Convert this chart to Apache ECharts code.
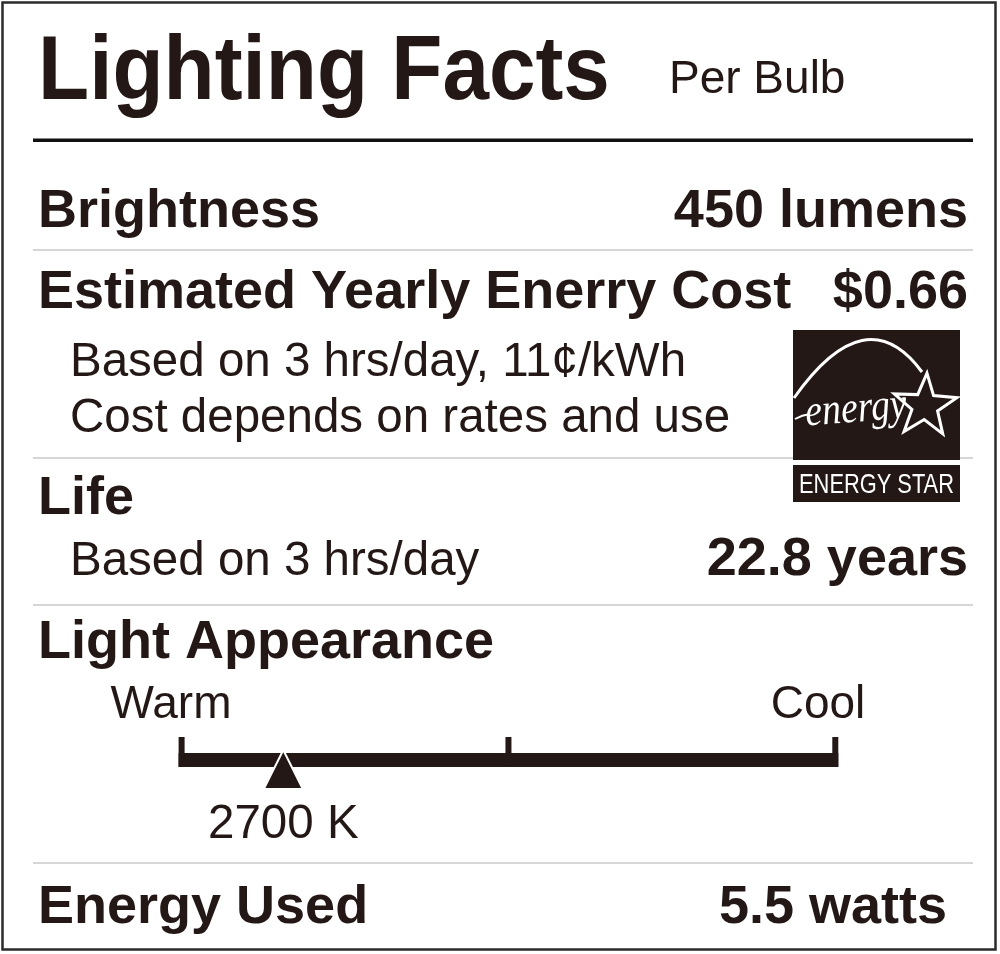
<!DOCTYPE html>
<html>
<head>
<meta charset="utf-8">
<script src="https://cdn.jsdelivr.net/npm/echarts@6/dist/echarts.min.js"></script>
<style>
html,body{margin:0;padding:0;background:#fff;}
#chart{width:1000px;height:954px;}
</style>
</head>
<body>
<div id="chart"></div>
<script>
// ---- data ----
const titleText = ['Lighting Facts', 'Per Bulb'];
const headings = ['Brightness', 'Estimated Yearly Enerry Cost', 'Life', 'Light Appearance', 'Energy Used'];
const notes = ['Based on 3 hrs/day, 11\u00A2/kWh', 'Cost depends on rates and use', 'Based on 3 hrs/day'];
const brightnessLumens = [450];
const yearlyCostUSD = [0.66];
const lifeYears = [22.8];
const energyWatts = [5.5];
const colorTempK = [2700];
const scaleTicks = [2000, 4250, 6500];
const scaleEnds = ['Warm', 'Cool'];
const logoText = ['energy', 'ENERGY STAR'];

// ---- styles ----
const INK = '#231815';
const FF = '"Liberation Sans", Arial, Helvetica, sans-serif';
const MID = 0.27; // baseline offset factor for 'middle'
function txt(x, y, text, size, weight, align, extra) {
  const el = {
    type: 'text',
    x: x,
    y: y - MID * size,
    silent: true,
    style: {
      x: 0, y: 0,
      text: text,
      fill: INK,
      font: (weight || 'normal') + ' ' + size + 'px ' + FF,
      align: align || 'left', textAlign: align || 'left',
      verticalAlign: 'middle', textVerticalAlign: 'middle'
    }
  };
  if (extra) Object.assign(el, extra);
  return el;
}
function hline(y, color, w) {
  return {type: 'line', silent: true, shape: {x1: 33, y1: y, x2: 973, y2: y}, style: {stroke: color, lineWidth: w}};
}
function starPoints(cx, cy, R, r, rot) {
  const pts = [];
  for (let i = 0; i < 10; i++) {
    const a = -Math.PI / 2 + rot + i * Math.PI / 5;
    const rr = i % 2 === 0 ? R : r;
    pts.push([cx + rr * Math.cos(a), cy + rr * Math.sin(a)]);
  }
  return pts;
}

const B = 54, R = 47.5;
const graphics = [
  {type: 'rect', silent: true, shape: {x: 2.5, y: 2.5, width: 993, height: 947}, style: {fill: 'none', stroke: '#2b2b2b', lineWidth: 2.5}},
  txt(38, 98, titleText[0], 90, 'bold', 'left', {scaleX: 0.93}),
  txt(669, 93, titleText[1], 46, 'normal', 'left'),
  {type: 'rect', silent: true, shape: {x: 33, y: 138.5, width: 940, height: 3.5}, style: {fill: '#111'}},
  txt(38, 227, headings[0], B, 'bold'),
  txt(968, 227, brightnessLumens[0] + ' lumens', B, 'bold', 'right'),
  hline(250, '#c8c8c8', 1.5),
  txt(38, 308, headings[1], B, 'bold'),
  txt(968, 308, '$' + yearlyCostUSD[0].toFixed(2), B, 'bold', 'right'),
  txt(70, 376, notes[0], R, 'normal'),
  txt(70, 432, notes[1], R, 'normal'),
  hline(458, '#c8c8c8', 1.5),
  txt(38, 514, headings[2], B, 'bold'),
  txt(70, 575, notes[2], R, 'normal'),
  txt(968, 575, lifeYears[0].toFixed(1) + ' years', B, 'bold', 'right'),
  hline(605, '#c8c8c8', 1.5),
  txt(38, 658, headings[3], B, 'bold'),
  txt(171, 718, scaleEnds[0], 46, 'normal', 'center'),
  txt(818, 718, scaleEnds[1], 46, 'normal', 'center'),
  hline(863, '#c8c8c8', 1.5),
  txt(38, 923, headings[4], B, 'bold'),
  txt(947, 923, energyWatts[0] + ' watts', B, 'bold', 'right'),
  // ENERGY STAR logo
  {type: 'rect', silent: true, shape: {x: 793, y: 330, width: 167, height: 130}, style: {fill: INK}},
  {type: 'rect', silent: true, shape: {x: 793, y: 465, width: 167, height: 37}, style: {fill: INK}},
  {type: 'bezierCurve', silent: true, shape: {x1: 794, y1: 398, cpx1: 866, cpy1: 296, x2: 922, y2: 372}, style: {fill: 'none', stroke: '#fff', lineWidth: 3}},
  {type: 'polygon', silent: true, shape: {points: starPoints(925, 406, 33, 13.5, 0.06)}, style: {fill: 'none', stroke: '#fff', lineWidth: 3, lineJoin: 'miter'}},
  {type: 'bezierCurve', silent: true, shape: {x1: 795, y1: 419, cpx1: 802, cpy1: 415, x2: 810, y2: 414}, style: {fill: 'none', stroke: '#fff', lineWidth: 2}},
  {type: 'text', silent: true, x: 856, y: 410, rotation: 0.08, scaleX: 0.86,
    style: {x: 0, y: 0, text: logoText[0], fill: '#fff', font: 'italic 44px "Liberation Serif", serif',
      align: 'center', textAlign: 'center', verticalAlign: 'middle', textVerticalAlign: 'middle'}},
  {type: 'text', silent: true, x: 876.5, y: 493 - MID * 28, scaleX: 0.78,
    style: {x: 0, y: 0, text: logoText[1], fill: '#fff', font: 'normal 28px ' + FF,
      align: 'center', textAlign: 'center', verticalAlign: 'middle', textVerticalAlign: 'middle'}}
];

const chart = echarts.init(document.getElementById('chart'), null, {renderer: 'canvas'});
chart.setOption({
  animation: false,
  backgroundColor: '#fff',
  grid: {left: 181.6, right: 164.7, top: 700, height: 120},
  xAxis: {type: 'value', min: scaleTicks[0], max: scaleTicks[scaleTicks.length - 1], show: false},
  yAxis: {type: 'value', min: -1, max: 1, show: false},
  graphic: {elements: graphics},
  series: [
    {
      type: 'custom', silent: true,
      data: [[scaleTicks[0], scaleTicks[scaleTicks.length - 1]]],
      renderItem: function (params, api) {
        const a = api.coord([api.value(0), 0]);
        const b = api.coord([api.value(1), 0]);
        return {type: 'rect', shape: {x: a[0] - 3, y: a[1] - 7, width: b[0] - a[0] + 6, height: 14}, style: {fill: INK}};
      }
    },
    {
      type: 'custom', silent: true,
      data: scaleTicks.map(v => [v]),
      renderItem: function (params, api) {
        const c = api.coord([api.value(0), 0]);
        return {type: 'rect', shape: {x: c[0] - 3, y: c[1] - 23, width: 6, height: 30}, style: {fill: INK}};
      }
    },
    {
      type: 'custom', silent: true,
      data: colorTempK.map(v => [v]),
      renderItem: function (params, api) {
        const v = api.value(0);
        const c = api.coord([v, 0]);
        return {
          type: 'group',
          children: [
            {type: 'polygon', shape: {points: [[c[0], c[1] - 10], [c[0] + 19.5, c[1] + 29], [c[0] - 19.5, c[1] + 29]]},
              style: {fill: INK, stroke: '#fff', lineWidth: 2}},
            {type: 'text', x: c[0], y: c[1] + 78 - MID * 47.5,
              style: {x: 0, y: 0, text: v + ' K', fill: INK, font: 'normal 47.5px ' + FF,
                align: 'center', textAlign: 'center', verticalAlign: 'middle', textVerticalAlign: 'middle'}}
          ]
        };
      }
    }
  ]
});
</script>
</body>
</html>
